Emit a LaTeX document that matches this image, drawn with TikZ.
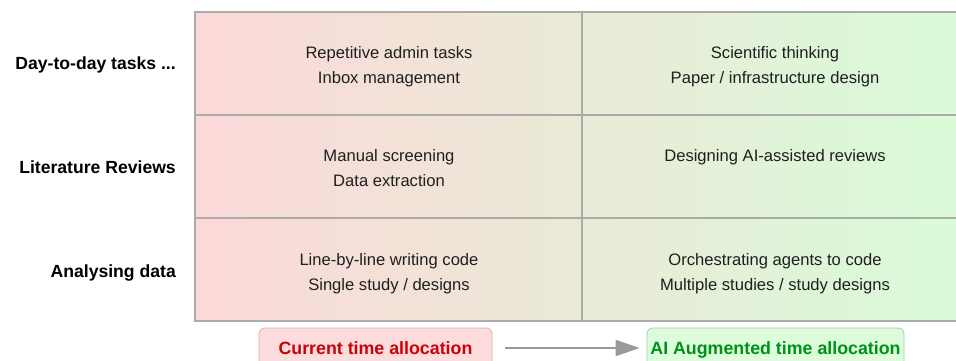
\documentclass[tikz,border=0pt]{standalone}
\usepackage{fontspec}
\setmainfont{Liberation Sans}
\usetikzlibrary{positioning,arrows.meta}

\tikzset{
    rowlabel/.style={anchor=base east, inner sep=0pt, font=\fontsize{17.6}{21}\selectfont\bfseries},
    cell/.style={anchor=north, align=center, inner sep=0pt, text=black!88, font=\fontsize{16.6}{25}\selectfont},
    allocbox/.style={anchor=base, rounded corners=6pt, line width=0.8pt, inner xsep=2pt, inner ysep=13pt,
        text height=13pt, text depth=4pt, font=\fontsize{17.8}{21}\selectfont\bfseries}
}

\begin{document}
\begin{tikzpicture}[x=1pt, y=-1pt]
    \useasboundingbox (0,0) rectangle (956,360);
    \clip (0,0) rectangle (956,360);

    \definecolor{cur_fill}{RGB}{252,216,216}
    \definecolor{aug_fill}{RGB}{216,252,216}
    \definecolor{cur_text}{RGB}{204,0,8}
    \definecolor{aug_text}{RGB}{0,146,22}
    \colorlet{grid_line}{black!33}

    % table background and rules
    \shade[left color=cur_fill, right color=aug_fill] (195,12) rectangle (970,321);
    \draw[grid_line, line width=1.5pt] (970,12) -- (195,12) -- (195,321) -- (970,321);
    \foreach \y in {115, 218} {
            \draw[grid_line, line width=1.2pt] (195,\y) -- (970,\y);
        }
    \draw[grid_line, line width=1.2pt] (582,12) -- (582,321);

    % row labels
    \node[rowlabel] (day) at (176,69) {Day-to-day tasks ...};
    \node[rowlabel] (lit) at (176,173) {Literature Reviews};
    \node[rowlabel] (ana) at (176,277) {Analysing data};

    % cells
    \node[cell] (day_cur) at (389,46) {Repetitive admin tasks\\Inbox management};
    \node[cell] (day_aug) at (775,46) {Scientific thinking\\Paper / infrastructure design};
    \node[cell] (lit_cur) at (389,149.5) {Manual screening\\Data extraction};
    \node[cell] (lit_aug) at (775,149.5) {Designing AI-assisted reviews};
    \node[cell] (ana_cur) at (389,253) {Line-by-line writing code\\Single study / designs};
    \node[cell] (ana_aug) at (775,253) {Orchestrating agents to code\\Multiple studies / study designs};

    % time allocation boxes
    \node[allocbox, draw=cur_text!35, fill=cur_fill!90!white, text=cur_text, minimum width=233pt]
        (cur) at (375.5,354) {Current time allocation};
    \node[allocbox, draw=aug_text!40, fill=aug_fill!90!white, text=aug_text, minimum width=257pt]
        (aug) at (775.5,354) {AI Augmented time allocation};

    \draw[black!40, line width=2pt, -{Triangle[length=24pt, width=16pt]},
        shorten <=13pt, shorten >=7pt] ([yshift=1.5pt]cur.east) -- ([yshift=1.5pt]aug.west);
\end{tikzpicture}
\end{document}
